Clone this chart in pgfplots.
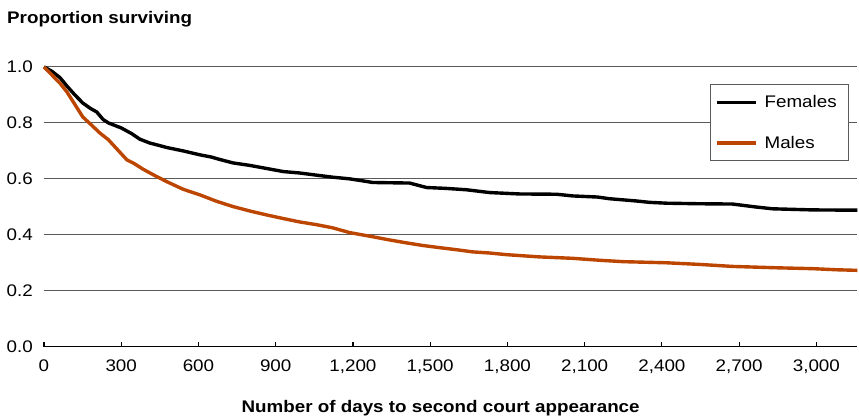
\documentclass[border=0pt]{standalone}
\usepackage{pgfplots}
\pgfplotsset{compat=1.18}
\usepackage{fontspec}
\setmainfont[FakeStretch=1.12]{Liberation Sans}
\definecolor{maleor}{RGB}{188,70,0}
\definecolor{gridc}{RGB}{90,90,90}
\begin{document}
\begin{tikzpicture}
\begin{axis}[
  name=ax,
  scale only axis,
  width=814bp, height=280bp,
  xmin=0, xmax=3159, ymin=0, ymax=1.0,
  clip=false,
  axis x line*=bottom,
  axis y line*=left,
  y axis line style={draw=none},
  x axis line style={line width=1.5bp, -},
  xtick={0,300,...,3000},
  ytick={0,0.2,...,1.0},
  tick align=inside,
  major tick length=5bp,
  xtick style={line width=1.2bp, black},
  ytick style={draw=none},
  ymajorgrids=true,
  grid style={gridc, line width=1bp},
  /pgf/number format/assume math mode=true,
  xticklabel style={/pgf/number format/1000 sep={,}, anchor=north, inner sep=0pt, yshift=-13bp, font=\fontsize{16.8bp}{19bp}\selectfont},
  yticklabel style={/pgf/number format/fixed, /pgf/number format/precision=1, /pgf/number format/fixed zerofill, anchor=east, inner sep=0pt, xshift=-11bp, font=\fontsize{16.8bp}{19bp}\selectfont},
  legend style={at={(rel axis cs:0.990,0.939)}, anchor=north east, draw=gridc, line width=1bp,
    font=\fontsize{16.8bp}{19bp}\selectfont, inner xsep=5bp, inner ysep=8bp, row sep=21bp,
    nodes={inner xsep=7bp, inner ysep=3bp}},
  legend cell align=left,
  legend image code/.code={\draw[#1, line width=3.6bp] (0bp,0bp) -- (39bp,0bp);},
]
\addplot[black, line width=3.4bp, line join=round] coordinates {
(0,1.0) (30,0.985) (62,0.962) (89,0.932) (120,0.900) (151,0.871) (180,0.852) (205,0.839) (230,0.812) (250,0.800) (300,0.782) (340,0.762) (372,0.742) (411,0.728) (445,0.720) (477,0.712) (540,0.700) (605,0.686) (650,0.678) (680,0.670) (734,0.657) (800,0.648) (865,0.637) (930,0.626) (993,0.621) (1060,0.613) (1121,0.606) (1187,0.600) (1230,0.594) (1277,0.587) (1420,0.585) (1486,0.569) (1560,0.566) (1641,0.561) (1731,0.551) (1847,0.546) (1991,0.545) (2053,0.539) (2150,0.535) (2196,0.529) (2300,0.521) (2352,0.516) (2418,0.513) (2546,0.511) (2674,0.510) (2760,0.500) (2829,0.493) (2985,0.489) (3159,0.488)
};
\addlegendentry{Females}
\addplot[maleor, line width=3.4bp, line join=round] coordinates {
(0,1.0) (30,0.972) (62,0.942) (89,0.911) (120,0.866) (151,0.821) (185,0.792) (217,0.764) (250,0.740) (283,0.707) (322,0.668) (350,0.655) (384,0.635) (430,0.612) (477,0.590) (540,0.563) (605,0.543) (670,0.520) (734,0.501) (800,0.485) (865,0.471) (930,0.458) (993,0.446) (1060,0.436) (1121,0.425) (1187,0.408) (1277,0.393) (1340,0.382) (1409,0.371) (1470,0.362) (1537,0.354) (1600,0.347) (1665,0.339) (1730,0.335) (1797,0.329) (1860,0.325) (1925,0.321) (2053,0.316) (2158,0.309) (2250,0.304) (2418,0.300) (2550,0.294) (2674,0.287) (2850,0.282) (2985,0.279) (3080,0.275) (3159,0.273)
};
\addlegendentry{Males}
\end{axis}
\node[anchor=base west, inner sep=0pt, font=\bfseries\fontsize{16.8bp}{19bp}\selectfont] at ([shift={(-37bp,43bp)}]ax.north west) {Proportion surviving};
\node[anchor=base, inner sep=0pt, font=\bfseries\fontsize{16.8bp}{19bp}\selectfont] at ([shift={(397bp,-66bp)}]ax.south west) {Number of days to second court appearance};
\path[use as bounding box] ([shift={(-44bp,-72bp)}]ax.south west) rectangle ([shift={(1bp,67bp)}]ax.north east);
\end{tikzpicture}
\end{document}
